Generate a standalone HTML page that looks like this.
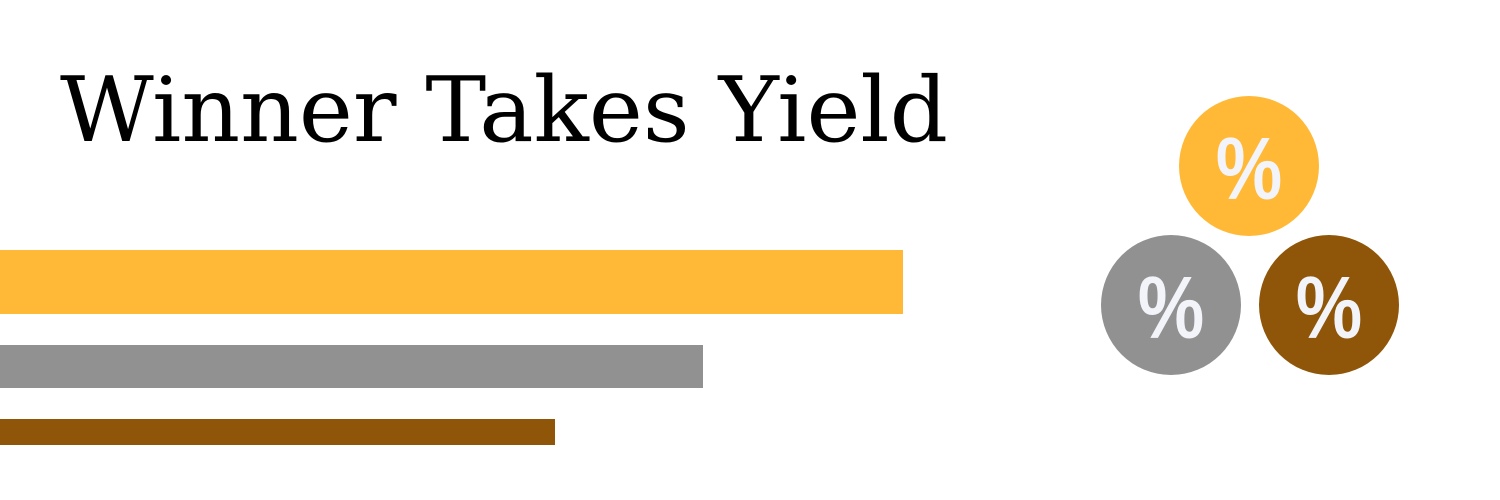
<!DOCTYPE html>
<html><head><meta charset="utf-8"><style>
html,body{margin:0;padding:0;background:#fff;width:1500px;height:500px;overflow:hidden}
svg{display:block}
</style></head><body>
<svg id="chart" width="1500" height="500" viewBox="0 0 1500 500">
<text x="60" y="141" font-family="'DejaVu Serif','Liberation Serif',serif" font-size="90" fill="#000" textLength="888" lengthAdjust="spacingAndGlyphs">Winner Takes Yield</text>
<g id="bars"></g>
<g id="coins"></g>
</svg>
<script>
const categories = ["gold","silver","bronze"];
const values = [903, 703, 555];
const colors = ["#ffb937","#919191","#8f560a"];
const barTops = [250, 345, 419];
const barHeights = [64, 43, 26];
const domainMax = 1000;
const rangeMax = 1000;
function x(v){ return v / domainMax * rangeMax; }
const ns = "http://www.w3.org/2000/svg";
const bars = document.getElementById("bars");
categories.forEach((c,i)=>{
  const r = document.createElementNS(ns,"rect");
  r.setAttribute("x", x(0));
  r.setAttribute("y", barTops[i]);
  r.setAttribute("width", x(values[i]) - x(0));
  r.setAttribute("height", barHeights[i]);
  r.setAttribute("fill", colors[i]);
  
  
  bars.appendChild(r);
});
const coinPos = [[1249,166],[1171,305],[1329,305]];
const coins = document.getElementById("coins");
categories.forEach((c,i)=>{
  const g = document.createElementNS(ns,"g");
  
  
  const ci = document.createElementNS(ns,"circle");
  ci.setAttribute("cx", coinPos[i][0]);
  ci.setAttribute("cy", coinPos[i][1]);
  ci.setAttribute("r", 70);
  ci.setAttribute("fill", colors[i]);
  g.appendChild(ci);
  const t = document.createElementNS(ns,"text");
  t.setAttribute("x", 0);
  t.setAttribute("y", 0);
  t.setAttribute("text-anchor","middle");
  t.setAttribute("font-family","'Liberation Sans',sans-serif");
  t.setAttribute("font-weight","bold");
  t.setAttribute("font-size","88");
  t.setAttribute("fill","#f3f4f9");
  t.setAttribute("transform","translate("+coinPos[i][0]+","+(coinPos[i][1]+33)+") scale(0.85,1)");
  t.textContent = "%";
  
  
  g.appendChild(t);
  coins.appendChild(g);
});
</script>
</body></html>
